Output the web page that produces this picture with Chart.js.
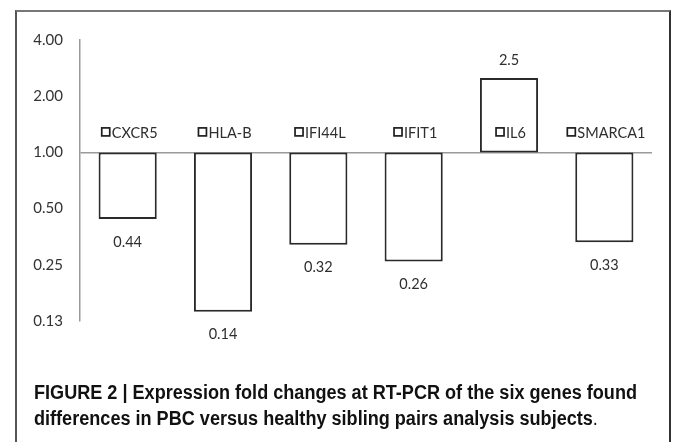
<!DOCTYPE html>
<html>
<head>
<meta charset="utf-8">
<script src="https://cdn.jsdelivr.net/npm/chart.js@4"></script>
<style>
  html, body { margin: 0; padding: 0; background: #fff; overflow: hidden; }
  #wrap { position: relative; width: 673px; height: 442px; overflow: hidden; }
  #frame { position: absolute; left: 15px; top: 10px; width: 652px; height: 440px;
           border-left: 2px solid #555; border-top: 2px solid #777; border-right: 2px solid #333; }
  #chartBox { position: absolute; left: 0; top: 0; width: 673px; height: 442px; }
  #caption { position: absolute; left: 34px; top: 380px; font-family: "Liberation Sans Narrow", "Liberation Sans", sans-serif;
             font-weight: bold; font-size: 19.5px; line-height: 25.5px; color: #111; white-space: nowrap;
             transform-origin: 0 0; }
  #caption .dot { font-weight: normal; }
</style>
</head>
<body>
<div id="wrap">
  <div id="frame"></div>
  <div id="chartBox"><canvas id="c" width="673" height="442"></canvas></div>
  <div id="caption"><span id="line1">FIGURE 2 | Expression fold changes at RT-PCR of the six genes found</span><br>differences in PBC versus healthy sibling pairs analysis subjects<span class="dot">.</span></div>
</div>
<script>
'use strict'

// genes and fold changes (RT-PCR)
const genes = ['CXCR5', 'HLA-B', 'IFI44L', 'IFIT1', 'IL6', 'SMARCA1'];
const foldChange = [0.44, 0.14, 0.32, 0.26, 2.5, 0.33];
const valueLabels = ['0.44', '0.14', '0.32', '0.26', '2.5', '0.33'];

// log2 axis ticks
const tickValues = [0.125, 0.25, 0.5, 1, 2, 4];
const tickLabels = ['0.13', '0.25', '0.50', '1.00', '2.00', '4.00'];

const baseline = 1;

// bars float from 1.00 to the fold change
const barData = foldChange.map(v => [baseline, v]);

const labelFont = '14.5px Lato, "Open Sans", sans-serif';

// squeeze the caption like the condensed face in the figure
const line1 = document.getElementById('line1');
const cap = document.getElementById('caption');
cap.style.transform = 'scaleX(' + (603 / line1.getBoundingClientRect().width) + ')';

// category names with the little square key, and value labels at the bar ends
const barLabels = {
  id: 'barLabels',
  afterDatasetsDraw(chart) {
    const ctx = chart.ctx;
    const meta = chart.getDatasetMeta(0);
    const yScale = chart.scales.y;
    const yBase = yScale.getPixelForValue(baseline);
    ctx.save();
    ctx.font = labelFont;
    ctx.fillStyle = '#2e2e2e';
    ctx.textBaseline = 'middle';
    meta.data.forEach((bar, i) => {
      const v = foldChange[i];
      // value label
      ctx.textAlign = 'center';
      const yEnd = yScale.getPixelForValue(v);
      const ly = v < baseline ? yEnd + 23 : yEnd - 18;
      ctx.fillText(valueLabels[i], bar.x, ly);

      // category label with key square
      const name = genes[i];
      const tw = ctx.measureText(name).width;
      const sq = 8;
      const gap = 2;
      const total = sq + gap + tw;
      const x0 = bar.x + 2 - total / 2;
      const cy = yBase - 20;
      ctx.strokeStyle = '#1e1e1e';
      ctx.lineWidth = 1.7;
      ctx.strokeRect(x0, cy - 4.5, sq, sq);
      ctx.textAlign = 'left';
      ctx.fillText(name, x0 + sq + gap, cy + 1);
    });
    ctx.restore();
  }
};

const chart = new Chart(document.getElementById('c'), {
  type: 'bar',
  data: {
    labels: genes,
    datasets: [{
      data: barData,
      backgroundColor: '#fff',
      borderColor: '#2a2a2a',
      borderWidth: 2,
      borderSkipped: false,
      categoryPercentage: 1,
      barPercentage: 0.61
    }]
  },
  options: {
    responsive: false,
    animation: false,
    layout: { padding: { left: 0, right: 21, top: 40, bottom: 121 } },
    plugins: { legend: { display: false }, tooltip: { enabled: false } },
    scales: {
      x: {
        display: false
      },
      y: {
        type: 'logarithmic',
        min: 0.125,
        max: 4,
        afterBuildTicks: scale => {
          scale.ticks = tickValues.map(v => ({ value: v }));
        },
        afterFit: scale => { scale.width = 80; },
        ticks: {
          padding: 17,
          color: '#333',
          font: { family: 'Lato, "Open Sans", sans-serif', size: 15 },
          callback: (val) => tickLabels[tickValues.indexOf(val)]
        },
        grid: {
          drawTicks: false,
          lineWidth: 1.5,
          color: c => (c.tick && c.tick.value === baseline) ? '#9a9a9a' : 'rgba(0,0,0,0)'
        },
        border: { display: true, color: '#9a9a9a', width: 1.5 }
      }
    }
  },
  plugins: [barLabels]
});
</script>
</body>
</html>
